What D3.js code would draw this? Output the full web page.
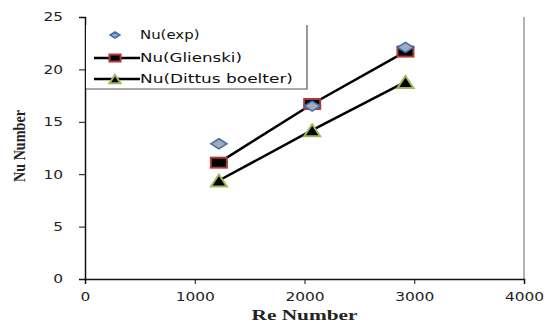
<!DOCTYPE html>
<html>
<head>
<meta charset="utf-8">
<script src="https://cdn.jsdelivr.net/npm/d3@7"></script>
<style>
  body { margin: 0; background: #fff; }
  .tick text { font-family: "DejaVu Sans", sans-serif; font-size: 12px; fill: #222; }
  .axis-title { font-family: "Liberation Serif", serif; font-weight: bold; fill: #222; }
  .legend text { font-family: "DejaVu Sans", sans-serif; font-size: 11.5px; fill: #111; }
</style>
</head>
<body>
<div id="chart"></div>
<script>
// data
const reValues = [1220, 2070, 2920];
const nuExp = [12.9, 16.5, 22.1];
const nuGlienski = [11.1, 16.7, 21.7];
const nuDittus = [9.4, 14.2, 18.8];
const xTicks = [0, 1000, 2000, 3000, 4000];
const yTicks = [0, 5, 10, 15, 20, 25];
const seriesNames = ['Nu(exp)', 'Nu(Glienski)', 'Nu(Dittus boelter)'];

const width = 545, height = 323;
const margin = { top: 17, right: 21, bottom: 44, left: 85 };
const innerW = width - margin.left - margin.right;
const innerH = height - margin.top - margin.bottom;

const svg = d3.select('#chart').append('svg')
  .attr('width', width)
  .attr('height', height);

const chart = svg.append('g')
  .attr('transform', `translate(${margin.left}, ${margin.top})`);

const xScale = d3.scaleLinear().domain([0, 4000]).range([0, innerW]);
const yScale = d3.scaleLinear().domain([0, 25]).range([innerH, 0]);

// right frame line
chart.append('line')
  .attr('x1', innerW).attr('x2', innerW)
  .attr('y1', 0).attr('y2', innerH)
  .attr('stroke', '#999').attr('stroke-width', 1.5);

const xAxis = chart.append('g')
  .attr('transform', `translate(0, ${innerH})`)
  .call(d3.axisBottom(xScale).tickValues(xTicks).tickFormat(d3.format('d')).tickSize(5).tickPadding(8));
const yAxis = chart.append('g')
  .call(d3.axisLeft(yScale).tickValues(yTicks).tickSize(6).tickPadding(16));
[xAxis, yAxis].forEach(a => {
  a.select('.domain').attr('stroke', '#111').attr('stroke-width', 1.5);
  a.selectAll('.tick line').attr('stroke', '#111');
  // the picture's glyphs are stretched sideways
  a.selectAll('.tick text')
    .attr('textLength', function () { return this.textContent.length * 9.8; })
    .attr('lengthAdjust', 'spacingAndGlyphs');
});

svg.append('text')
  .attr('class', 'axis-title')
  .attr('x', margin.left + xScale(2000))
  .attr('y', 320)
  .attr('text-anchor', 'middle')
  .style('font-size', '15px')
  .attr('textLength', 106)
  .attr('lengthAdjust', 'spacingAndGlyphs')
  .text('Re Number');
svg.append('text')
  .attr('class', 'axis-title')
  .attr('transform', `translate(25, 146) rotate(-90)`)
  .attr('text-anchor', 'middle')
  .style('font-size', '16px')
  .attr('textLength', 72)
  .attr('lengthAdjust', 'spacingAndGlyphs')
  .text('Nu Number');

// markers
const diamond = (g, cx, cy, s = 1) => g.append('path')
  .attr('d', `M${cx - 8 * s},${cy} L${cx},${cy - 5 * s} L${cx + 8 * s},${cy} L${cx},${cy + 5 * s} Z`)
  .attr('fill', '#a4abb6').attr('stroke', '#3d6fb6').attr('stroke-width', 1.6);
const square = (g, cx, cy, s = 1) => g.append('rect')
  .attr('x', cx - 8 * s).attr('y', cy - 5 * s).attr('width', 16 * s).attr('height', 10 * s)
  .attr('fill', '#000').attr('stroke', '#b03a3a').attr('stroke-width', 2);
const triangle = (g, cx, cy, s = 1) => g.append('path')
  .attr('d', `M${cx - 8 * s},${cy + 6 * s} L${cx},${cy - 6 * s} L${cx + 8 * s},${cy + 6 * s} Z`)
  .attr('fill', '#000').attr('stroke', '#9bbb59').attr('stroke-width', 2);

const line = d3.line().x(d => xScale(d[0])).y(d => yScale(d[1]));
[nuGlienski, nuDittus].forEach(vals => {
  chart.append('path')
    .datum(reValues.map((r, i) => [r, vals[i]]))
    .attr('d', line)
    .attr('fill', 'none')
    .attr('stroke', '#000')
    .attr('stroke-width', 2.5);
});

reValues.forEach((r, i) => square(chart, xScale(r), yScale(nuGlienski[i])));
reValues.forEach((r, i) => triangle(chart, xScale(r), yScale(nuDittus[i])));
reValues.forEach((r, i) => diamond(chart, xScale(r), yScale(nuExp[i])));

// legend
const legend = svg.append('g').attr('class', 'legend');
legend.append('rect')
  .attr('x', 86).attr('y', 25).attr('width', 221).attr('height', 64)
  .attr('fill', '#fff');
legend.append('path')
  .attr('d', 'M307,25 L307,89 L86,89')
  .attr('fill', 'none').attr('stroke', '#555').attr('stroke-width', 1.2);
const rowsY = [35, 58, 79];
const markerFns = [diamond, square, triangle];
seriesNames.forEach((name, i) => {
  const y = rowsY[i];
  if (i > 0) {
    legend.append('line')
      .attr('x1', 94).attr('x2', 140).attr('y1', y).attr('y2', y)
      .attr('stroke', '#000').attr('stroke-width', 2.5);
  }
  markerFns[i](legend, 115, y, i === 0 ? 0.6 : 0.7);
  legend.append('text')
    .attr('x', 140).attr('y', y).attr('dy', '0.36em')
    .attr('textLength', name.length * 8.5)
    .attr('lengthAdjust', 'spacingAndGlyphs')
    .text(name);
});
</script>
</body>
</html>
